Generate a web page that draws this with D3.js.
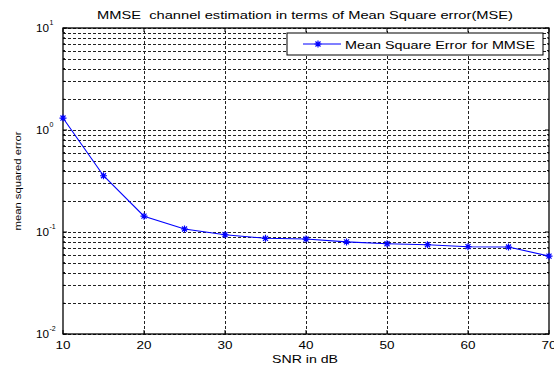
<!DOCTYPE html>
<html>
<head>
<meta charset="utf-8">
<script src="https://cdn.jsdelivr.net/npm/d3@7"></script>
<style>
  body { margin: 0; background: #fff; }
  text { font-family: "Liberation Sans", Arial, sans-serif; }
</style>
</head>
<body>
<svg id="chart" width="554" height="367"></svg>
<script>
const snr = [10, 15, 20, 25, 30, 35, 40, 45, 50, 55, 60, 65, 70];
const mse = [1.31, 0.356, 0.143, 0.107, 0.094, 0.0867, 0.0853, 0.080, 0.0768, 0.0751, 0.0718, 0.0713, 0.058];
const xTicks = [10, 20, 30, 40, 50, 60, 70];
const yExponents = [-2, -1, 0, 1];

const margin = {left: 63, right: 5, top: 28, bottom: 33};
const width = 554, height = 367;

const svg = d3.select('#chart');

const x = d3.scaleLinear()
  .domain([10, 70])
  .range([margin.left, width - margin.right]);
const y = d3.scaleLog()
  .domain([0.01, 10])
  .range([height - margin.bottom, margin.top]);

//grid lines
const minorVals = [];
yExponents.slice(0, -1).forEach(e => {
  for (let k = 2; k <= 9; k++) minorVals.push(k * Math.pow(10, e));
});
const gridVals = minorVals.concat(yExponents.map(e => Math.pow(10, e)));

const grid = svg.append('g')
  .attr('stroke', '#222')
  .attr('stroke-width', 1)
  .attr('stroke-dasharray', '3,2');
grid.selectAll('.hg')
  .data(gridVals)
  .enter().append('line')
  .attr('x1', x(10)).attr('x2', x(70))
  .attr('y1', d => Math.round(y(d)) + 0.5).attr('y2', d => Math.round(y(d)) + 0.5);
grid.selectAll('.vg')
  .data(xTicks.slice(1, -1))
  .enter().append('line')
  .attr('x1', d => Math.round(x(d)) + 0.5).attr('x2', d => Math.round(x(d)) + 0.5)
  .attr('y1', y(0.01)).attr('y2', y(10));

//ticks
const ticks = svg.append('g').attr('stroke', '#000').attr('stroke-width', 1);
xTicks.forEach(t => {
  ticks.append('line').attr('x1', x(t)).attr('x2', x(t)).attr('y1', y(0.01)).attr('y2', y(0.01) - 4);
  ticks.append('line').attr('x1', x(t)).attr('x2', x(t)).attr('y1', y(10)).attr('y2', y(10) + 4);
});
gridVals.forEach(v => {
  const len = minorVals.includes(v) ? 2 : 4;
  ticks.append('line').attr('x1', x(10)).attr('x2', x(10) + len).attr('y1', y(v)).attr('y2', y(v));
  ticks.append('line').attr('x1', x(70)).attr('x2', x(70) - len).attr('y1', y(v)).attr('y2', y(v));
});

//box
svg.append('rect')
  .attr('x', x(10)).attr('y', y(10))
  .attr('width', x(70) - x(10)).attr('height', y(0.01) - y(10))
  .attr('fill', 'none').attr('stroke', '#000').attr('stroke-width', 1.3);

//tick labels
svg.append('g').selectAll('text')
  .data(xTicks)
  .enter().append('text')
  .attr('x', d => x(d))
  .attr('y', y(0.01) + 15)
  .attr('text-anchor', 'middle')
  .attr('font-size', 11)
  .attr('textLength', 15)
  .attr('lengthAdjust', 'spacingAndGlyphs')
  .text(d => d);

const yl = svg.append('g');
yExponents.forEach(e => {
  yl.append('text')
    .attr('x', x(10) - 27)
    .attr('y', y(Math.pow(10, e)) + 3.5)
    .attr('font-size', 10)
    .attr('textLength', 13)
    .attr('lengthAdjust', 'spacingAndGlyphs')
    .text('10');
  yl.append('text')
    .attr('x', x(10) - 13.5)
    .attr('y', y(Math.pow(10, e)) - 3)
    .attr('font-size', 7)
    .text(e);
});

//line
const line = d3.line()
  .x((d, i) => x(snr[i]))
  .y(d => y(d));
svg.append('path')
  .attr('d', line(mse))
  .attr('fill', 'none')
  .attr('stroke', '#0000ff')
  .attr('stroke-width', 1.1);

const star = (g, cx, cy, r) => {
  const d = r * 0.72;
  g.append('path')
    .attr('d', `M${cx - r},${cy}H${cx + r}M${cx},${cy - r}V${cy + r}` +
      `M${cx - d},${cy - d}L${cx + d},${cy + d}M${cx - d},${cy + d}L${cx + d},${cy - d}`)
    .attr('stroke', '#0000ff').attr('stroke-width', 1.2).attr('fill', 'none');
};
const markers = svg.append('g');
mse.forEach((v, i) => star(markers, x(snr[i]), y(v), 3.5));

//title & labels
svg.append('text')
  .attr('x', 305).attr('y', 19)
  .attr('text-anchor', 'middle')
  .attr('font-size', 11)
  .attr('xml:space', 'preserve')
  .attr('textLength', 416)
  .attr('lengthAdjust', 'spacingAndGlyphs')
  .text('MMSE  channel estimation in terms of Mean Square error(MSE)');
svg.append('text')
  .attr('x', 305).attr('y', 363)
  .attr('text-anchor', 'middle')
  .attr('font-size', 11)
  .attr('textLength', 66)
  .attr('lengthAdjust', 'spacingAndGlyphs')
  .text('SNR in dB');
svg.append('text')
  .attr('transform', 'translate(20.5,' + ((y(10) + y(0.01)) / 2) + ') rotate(-90)')
  .attr('text-anchor', 'middle')
  .attr('font-size', 9.5)
  .attr('textLength', 99)
  .attr('lengthAdjust', 'spacingAndGlyphs')
  .text('mean squared error');

//legend
const lg = svg.append('g');
lg.append('rect')
  .attr('x', 287).attr('y', 33).attr('width', 256).attr('height', 22)
  .attr('fill', '#fff').attr('stroke', '#000').attr('stroke-width', 1);
lg.append('line')
  .attr('x1', 303).attr('x2', 341).attr('y1', 44).attr('y2', 44)
  .attr('stroke', '#0000ff').attr('stroke-width', 1.1);
star(lg, 318, 44, 3.5);
lg.append('text')
  .attr('x', 345).attr('y', 48.5)
  .attr('font-size', 11.5)
  .attr('textLength', 190)
  .attr('lengthAdjust', 'spacingAndGlyphs')
  .text('Mean Square Error for MMSE');
</script>
</body>
</html>
